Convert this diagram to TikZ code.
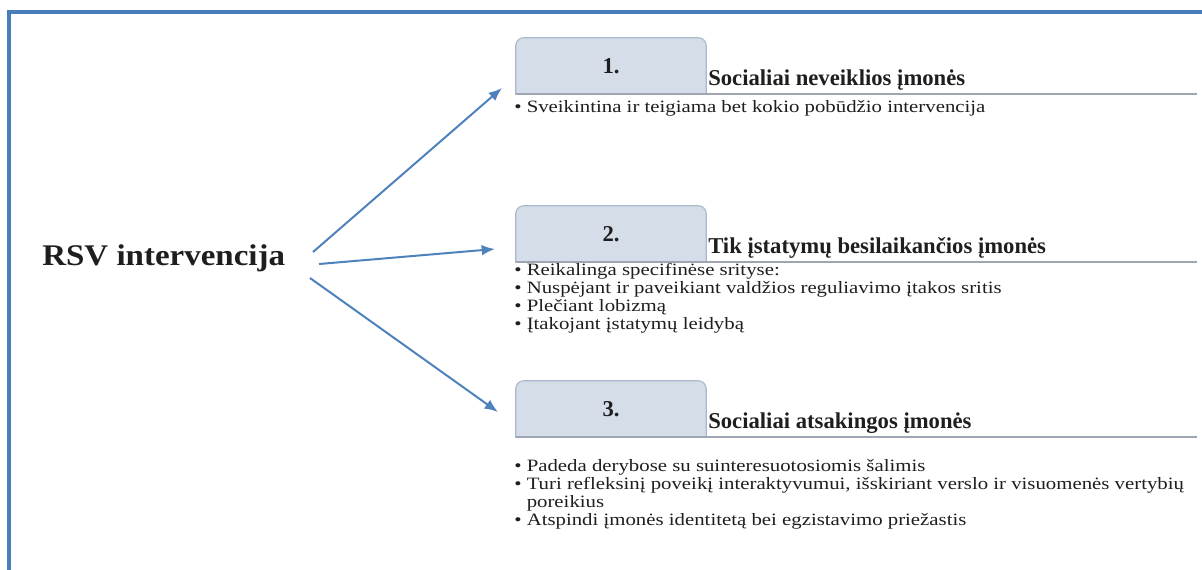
\documentclass[tikz,border=0pt]{standalone}
\usepackage{fontspec}
\usepackage{graphicx}
\setmainfont{Liberation Serif}
\usetikzlibrary{arrows.meta,backgrounds}

\definecolor{frameblue}{HTML}{4A7EBB}
\definecolor{arrowblue}{HTML}{4F81BD}
\definecolor{tabfill}{HTML}{D5DDE8}
\definecolor{tabline}{HTML}{A9B8CC}
\definecolor{rulegray}{HTML}{9DA6B2}
\definecolor{ink}{HTML}{1E1E1E}

% bullet list set a little wider than the font's natural width
\newcommand\itemlines[1]{\scalebox{1.2}[1]{\begin{tabular}[t]{@{}l@{}}#1\end{tabular}}}

\begin{document}
\begin{tikzpicture}[x=0.75pt,y=-0.75pt,
  frameline/.style={draw=frameblue,line width=2.3pt},
  arr/.style={draw=arrowblue,line width=1.5pt,-{Latex[length=10pt,width=8pt]}},
  tabnum/.style={font=\fontsize{17}{20}\selectfont\bfseries,text=ink,inner sep=0,
                 minimum width=142.5pt,minimum height=42pt},
  tabshape/.style={fill=tabfill,draw=tabline,line width=0.8pt},
  rulel/.style={draw=rulegray,line width=1.5pt},
  title/.style={font=\fontsize{17}{20}\selectfont\bfseries,text=ink,inner sep=0,anchor=base west},
  body/.style={font=\fontsize{13}{13.5}\selectfont,text=ink,inner sep=0,anchor=base west}]

\useasboundingbox (0,0) rectangle (1202,569);

% outer frame (left and top edges)
\draw[frameline] (9,580) -- (9,12) -- (1215,12);

% left label
\node[anchor=base west,font=\fontsize{22.5}{26}\selectfont\bfseries,text=ink,inner sep=0]
  (rsv) at (42,265) {\scalebox{1.1}[1]{RSV intervencija}};

% numbered tabs
\node[tabnum] (tab1) at (611,66) {1.};
\node[tabnum] (tab2) at (611,234) {2.};
\node[tabnum] (tab3) at (611,409) {3.};

\begin{scope}[on background layer]
  \foreach \t in {tab1,tab2,tab3}{
    \path[tabshape] (\t.south west) [rounded corners=6pt] -- (\t.north west)
      -- (\t.north east) [sharp corners] -- (\t.south east) -- cycle;
  }
\end{scope}

% rules under the tabs
\draw[rulel] (tab1.south west) -- ++(681,0);
\draw[rulel] (tab2.south west) -- ++(681,0);
\draw[rulel] (tab3.south west) -- ++(681,0);

% headings
\node[title] (h1) at (708,85) {Socialiai neveiklios įmonės};
\node[title] (h2) at (708,253.5) {Tik įstatymų besilaikančios įmonės};
\node[title] (h3) at (708,428) {Socialiai atsakingos įmonės};

% bullet lists
\node[body] (b1) at (514,112) {\itemlines{\textbullet\ Sveikintina ir teigiama bet kokio pobūdžio intervencija}};
\node[body] (b2) at (514,275) {\itemlines{%
  \textbullet\ Reikalinga specifinėse srityse:\\
  \textbullet\ Nuspėjant ir paveikiant valdžios reguliavimo įtakos sritis\\
  \textbullet\ Plečiant lobizmą\\
  \textbullet\ Įtakojant įstatymų leidybą}};
\node[body] (b3) at (514,471) {\itemlines{%
  \textbullet\ Padeda derybose su suinteresuotosiomis šalimis\\
  \textbullet\ Turi refleksinį poveikį interaktyvumui, išskiriant verslo ir visuomenės vertybių\\
  \phantom{\textbullet\ }poreikius\\
  \textbullet\ Atspindi įmonės identitetą bei egzistavimo priežastis}};

% arrows
\coordinate (s1) at (313,252);
\coordinate (s2) at (319,264);
\coordinate (s3) at (310,278);
\coordinate (e1) at (502,88);
\coordinate (e2) at (495,249);
\coordinate (e3) at (498,412);
\draw[arr] (s1) -- (e1);
\draw[arr] (s2) -- (e2);
\draw[arr] (s3) -- (e3);
\end{tikzpicture}
\end{document}
